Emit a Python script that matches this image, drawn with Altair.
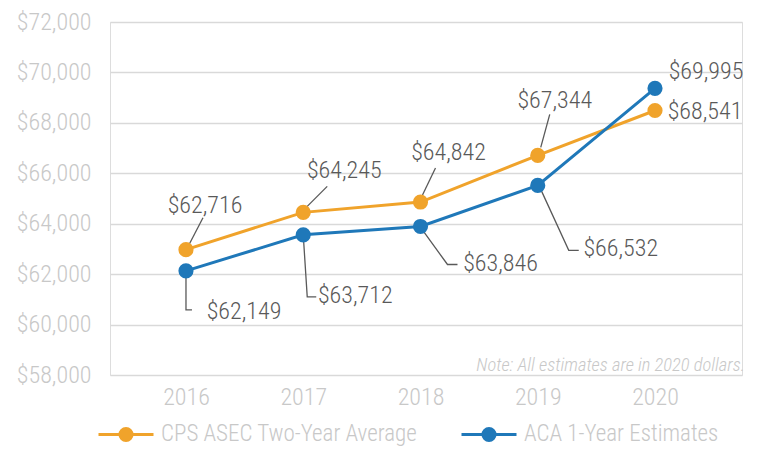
import altair as alt
import pandas as pd

# ---- data ----
years = [2016, 2017, 2018, 2019, 2020]
series_names = ["CPS ASEC Two-Year Average", "ACA 1-Year Estimates"]
cps_values = [62970, 64450, 64860, 66710, 68490]   # plotted positions
aca_values = [62130, 63560, 63890, 65520, 69370]
cps_labels = ["$62,716", "$64,245", "$64,842", "$67,344", "$68,541"]
aca_labels = ["$62,149", "$63,712", "$63,846", "$66,532", "$69,995"]

y_ticks = [58000, 60000, 62000, 64000, 66000, 68000, 70000, 72000]
note_text = "Note: All estimates are in 2020 dollars."

# label placement (pixel offsets from the point): text centre, and leader polyline
cps_text_off = [(19, -44), (41, -41), (28, -49), (17, -54), (50, 1)]
aca_text_off = [(58, 41), (52, 61), (80, 38), (83, 64), (51, -16)]
cps_leaders = [[(3, -5), (17, -32)], [(1, -3), (24, -26)], [(2, -7), (15, -34)],
               [(3, -8), (12, -41)], []]
aca_leaders = [[(0, 0), (0, 39), (6, 39)], [(0, 0), (4, 62), (13, 62)],
               [(3, 5), (27, 38), (37, 38)], [(3, 4), (31, 65), (41, 65)], []]

# ---- styling ----
FONT = "Roboto Condensed, Liberation Sans Narrow, DejaVu Sans Condensed, Arial Narrow, sans-serif"
WEIGHT = 300
ORANGE = "#F0A32B"
BLUE = "#1F78B9"
DARK = "#595959"
LIGHT = "#C8C8C8"
GRID = "#D9D9D9"

W, H = 632, 353
X_MIN, X_MAX = 2015.352, 2020.742
Y_MIN, Y_MAX = 58000, 72000
px_per_year = W / (X_MAX - X_MIN)
px_per_val = H / (Y_MAX - Y_MIN)

rows = []
for name, vals in zip(series_names, [cps_values, aca_values]):
    for yr, v in zip(years, vals):
        rows.append({"year": yr, "value": v, "series": name})
df = pd.DataFrame(rows)

text_rows, lead_rows = [], []
lid = 0
for vals, labs, toffs, leads in [(cps_values, cps_labels, cps_text_off, cps_leaders),
                                 (aca_values, aca_labels, aca_text_off, aca_leaders)]:
    for yr, v, lab, (dx, dy), lead in zip(years, vals, labs, toffs, leads):
        text_rows.append({"x": yr + dx / px_per_year, "y": v - dy / px_per_val, "label": lab})
        for i, (ldx, ldy) in enumerate(lead):
            lead_rows.append({"x": yr + ldx / px_per_year, "y": v - ldy / px_per_val,
                              "id": lid, "seq": i})
        lid += 1
tdf = pd.DataFrame(text_rows)
ldf = pd.DataFrame(lead_rows)

xscale = alt.Scale(domain=[X_MIN, X_MAX], nice=False, zero=False)
yscale = alt.Scale(domain=[Y_MIN, Y_MAX], nice=False, zero=False)

legend_path = ("M-1,0H1 "
               "M-0.22,0a0.22,0.22 0 1,0 0.44,0a0.22,0.22 0 1,0 -0.44,0 "
               "M-0.13,0a0.13,0.13 0 1,0 0.26,0a0.13,0.13 0 1,0 -0.26,0 "
               "M-0.055,0a0.055,0.055 0 1,0 0.11,0a0.055,0.055 0 1,0 -0.11,0")

lines = alt.Chart(df).mark_line(
    strokeWidth=3,
    point=alt.OverlayMarkDef(filled=True, size=230, opacity=1),
).encode(
    x=alt.X("year:Q", scale=xscale,
            axis=alt.Axis(values=years, format="d", title=None, grid=False, domain=False,
                          ticks=False, labelFontSize=24, labelColor=LIGHT, labelFont=FONT,
                          labelFontWeight=WEIGHT, labelPadding=10)),
    y=alt.Y("value:Q", scale=yscale,
            axis=alt.Axis(values=y_ticks, format="$,.0f", title=None, domain=False,
                          ticks=False, labelFontSize=24, labelColor=LIGHT, labelFont=FONT,
                          labelFontWeight=WEIGHT, labelPadding=19, gridColor=GRID,
                          gridWidth=1.5)),
    color=alt.Color("series:N",
                    scale=alt.Scale(domain=series_names, range=[ORANGE, BLUE]),
                    legend=alt.Legend(title=None, orient="none", direction="horizontal",
                                      legendX=-13, legendY=383,
                                      symbolType=legend_path, symbolSize=3025,
                                      symbolStrokeWidth=3, labelFontSize=23,
                                      labelColor=LIGHT, labelFont=FONT,
                                      labelFontWeight=WEIGHT, labelOffset=6,
                                      labelLimit=400, columnPadding=37)),
)

leaders = alt.Chart(ldf).mark_line(color=DARK, strokeWidth=1.3).encode(
    x=alt.X("x:Q", scale=xscale),
    y=alt.Y("y:Q", scale=yscale),
    detail="id:N",
    order="seq:Q",
)

texts = alt.Chart(tdf).mark_text(
    font=FONT, fontSize=24, fontWeight=WEIGHT, color=DARK, align="center",
    baseline="middle"
).encode(
    x=alt.X("x:Q", scale=xscale),
    y=alt.Y("y:Q", scale=yscale),
    text="label:N",
)

note = alt.Chart(pd.DataFrame({"t": [note_text]})).mark_text(
    font=FONT, fontSize=18.5, fontWeight=WEIGHT, fontStyle="italic", color=LIGHT,
    align="right", baseline="middle"
).encode(x=alt.value(W + 3), y=alt.value(343), text="t:N")

chart = alt.layer(leaders, lines, texts, note).properties(
    width=W, height=H,
    autosize=alt.AutoSizeParams(type="none"),
    padding={"left": 102, "top": 14, "right": 15, "bottom": 75},
).configure_view(stroke=None).configure(background="white")

chart.save("out.html", embed_options={"renderer": "svg", "actions": False})
